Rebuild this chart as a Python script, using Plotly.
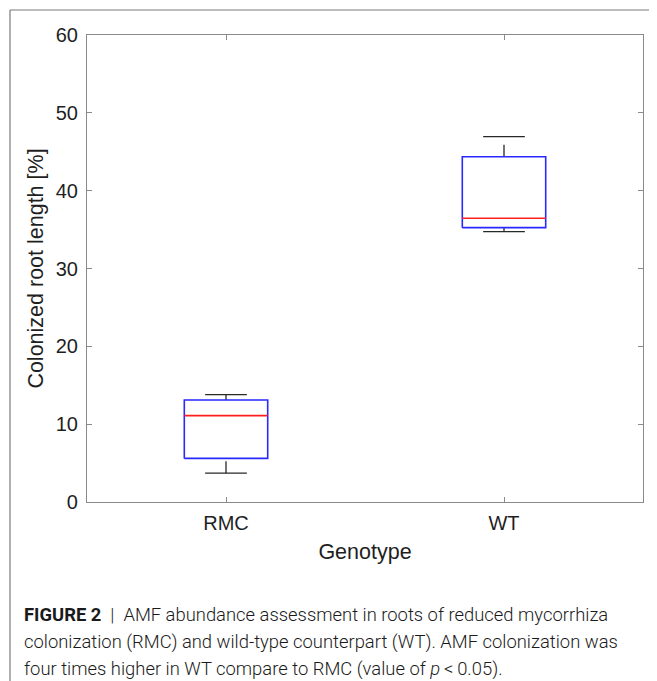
import plotly.graph_objects as go

# ---- data ----
categories = ["RMC", "WT"]
positions = [1, 2]
lower_whisker = [3.7, 34.75]
q1 = [5.6, 35.25]
median = [11.1, 36.45]
q3 = [13.1, 44.35]
upper_whisker = [13.8, 46.95]
y_ticks = [0, 10, 20, 30, 40, 50, 60]

BOX_HALF = 0.15
CAP_HALF = 0.075
BLUE = "rgb(40,40,255)"
RED = "rgb(255,30,30)"
WHISK = "rgb(40,40,40)"
TXT = "#1f1f1f"
FONT = "Liberation Sans, Arial, sans-serif"

fig = go.Figure()

for p, lo, a, m, b, hi in zip(positions, lower_whisker, q1, median, q3, upper_whisker):
    # whiskers (dashed, drawn bottom to top like MATLAB)
    fig.add_trace(go.Scatter(x=[p, p], y=[b, hi], mode="lines",
                             line=dict(color=WHISK, width=1.3, dash="12px,8px"),
                             hoverinfo="skip", showlegend=False))
    fig.add_trace(go.Scatter(x=[p, p], y=[lo, a], mode="lines",
                             line=dict(color=WHISK, width=1.3, dash="12px,8px"),
                             hoverinfo="skip", showlegend=False))
    # caps
    for v in (lo, hi):
        fig.add_trace(go.Scatter(x=[p - CAP_HALF, p + CAP_HALF], y=[v, v], mode="lines",
                                 line=dict(color=WHISK, width=1.3),
                                 hoverinfo="skip", showlegend=False))
    # box
    fig.add_trace(go.Scatter(x=[p - BOX_HALF, p + BOX_HALF, p + BOX_HALF, p - BOX_HALF, p - BOX_HALF],
                             y=[a, a, b, b, a], mode="lines",
                             line=dict(color=BLUE, width=1.6),
                             hoverinfo="skip", showlegend=False))
    # median
    fig.add_trace(go.Scatter(x=[p - BOX_HALF, p + BOX_HALF], y=[m, m], mode="lines",
                             line=dict(color=RED, width=1.6),
                             hoverinfo="skip", showlegend=False))

axis_common = dict(showline=True, linecolor="#8a8a8a", linewidth=1.2, mirror="ticks",
                   ticks="inside", ticklen=5, tickcolor="#8a8a8a", showgrid=False,
                   zeroline=False, tickfont=dict(family=FONT, size=20, color=TXT))

fig.update_xaxes(range=[0.5, 2.5], tickvals=positions, ticktext=categories,
                 ticklabelstandoff=3,
                 title=dict(text="Genotype", font=dict(family=FONT, size=21.5, color=TXT), standoff=10),
                 **axis_common)
fig.update_yaxes(range=[0, 60], tickvals=y_ticks, ticklabelstandoff=4,
                 title=dict(text="Colonized root length [%]", font=dict(family=FONT, size=21.5, color=TXT), standoff=6),
                 **axis_common)

# page has an 8px body margin: figure occupies page pixels 8..657 x 8..681
OFF = 8
W, H = 657 - OFF, 681 - OFF
# plot area in page pixels: x 87..643, y 35..502
L, T = 87 - OFF, 35 - OFF
R = W - (643 - OFF)
B = H - (502 - OFF)
pw, ph = W - L - R, H - T - B

def px(xp):  # page pixel x -> paper
    return (xp - OFF - L) / pw

def py(yp):  # page pixel y -> paper
    return (H - B - (yp - OFF)) / ph

fig.add_shape(type="line", xref="paper", yref="paper", x0=px(10), x1=px(670), y0=py(10), y1=py(10),
              line=dict(color="#7a7a7a", width=1.2))
fig.add_shape(type="line", xref="paper", yref="paper", x0=px(10), x1=px(10), y0=py(10), y1=py(700),
              line=dict(color="#7a7a7a", width=1.2))

CAP_FONT = "Roboto, Liberation Sans, sans-serif"
caption_lines = [
    "<b>FIGURE 2</b>  |  AMF abundance assessment in roots of reduced mycorrhiza",
    "colonization (RMC) and wild-type counterpart (WT). AMF colonization was",
    "four times higher in WT compare to RMC (value of <i>p</i>\u2009<\u20090.05).",
]
caption_y = [614, 642, 669]
for t, yy in zip(caption_lines, caption_y):
    fig.add_annotation(text=t, xref="paper", yref="paper", x=px(22), y=py(yy),
                       xanchor="left", yanchor="middle", showarrow=False,
                       font=dict(family=CAP_FONT, size=18.4, color="#1a1a1a", weight=300))

fig.update_layout(width=W, height=H, margin=dict(l=L, r=R, t=T, b=B),
                  paper_bgcolor="white", plot_bgcolor="white")

fig.write_html("out.html")
